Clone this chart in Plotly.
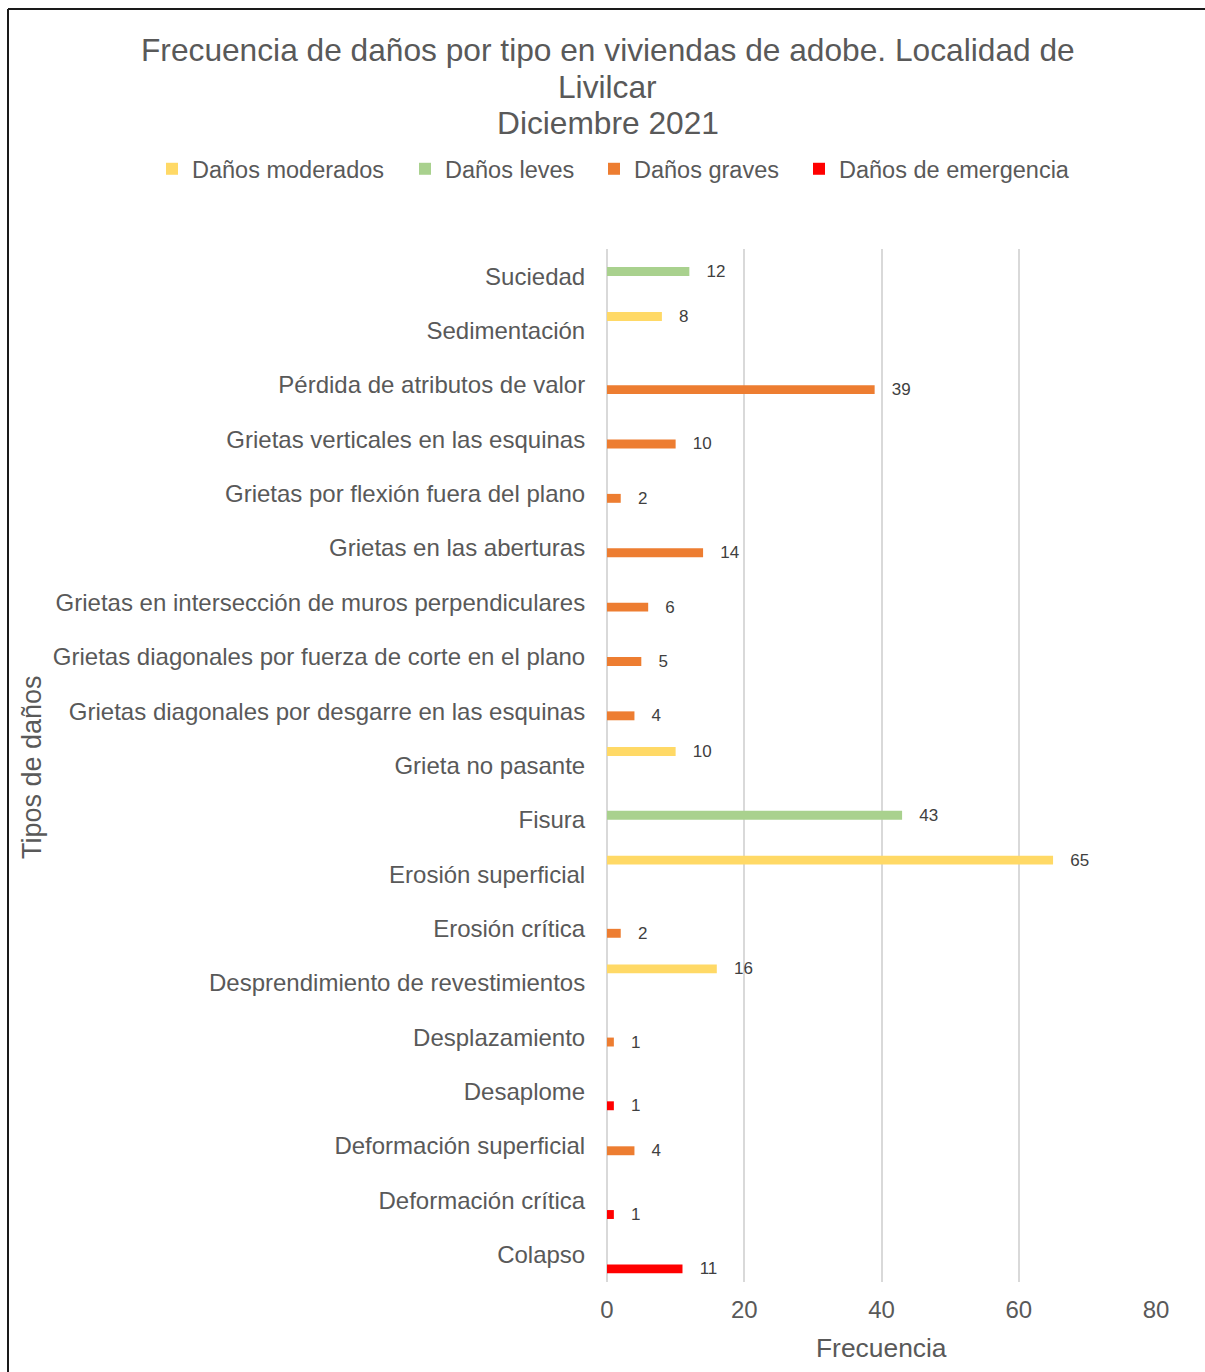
import plotly.graph_objects as go

categories = [
    "Suciedad", "Sedimentación", "Pérdida de atributos de valor",
    "Grietas verticales en las esquinas", "Grietas por flexión fuera del plano",
    "Grietas en las aberturas", "Grietas en intersección de muros perpendiculares",
    "Grietas diagonales por fuerza de corte en el plano",
    "Grietas diagonales por desgarre en las esquinas", "Grieta no pasante",
    "Fisura", "Erosión superficial", "Erosión crítica",
    "Desprendimiento de revestimientos", "Desplazamiento", "Desaplome",
    "Deformación superficial", "Deformación crítica", "Colapso",
]
N = None
danos_moderados = [N, 8, N, N, N, N, N, N, N, 10, N, 65, N, 16, N, N, N, N, N]
danos_leves = [12, N, N, N, N, N, N, N, N, N, 43, N, N, N, N, N, N, N, N]
danos_graves = [N, N, 39, 10, 2, 14, 6, 5, 4, N, N, N, 2, N, 1, N, 4, N, N]
danos_emergencia = [N, N, N, N, N, N, N, N, N, N, N, N, N, N, N, 1, N, 1, 11]

series_names = ["Daños moderados", "Daños leves", "Daños graves", "Daños de emergencia"]
series_values = [danos_moderados, danos_leves, danos_graves, danos_emergencia]
series_colors = ["#FFD966", "#A9D18E", "#ED7D31", "#FF0000"]
x_ticks = [0, 20, 40, 60, 80]
title_lines = ["Frecuencia de daños por tipo en viviendas de adobe. Localidad de",
               "Livilcar", "Diciembre 2021"]

FONT = "Liberation Sans, Arial, sans-serif"
GRAY = "#595959"

W, H = 1205, 1372
L, R, T, B = 607, 1205 - 1156, 249, 1372 - 1282
pw, ph = W - L - R, H - T - B

def px_x(x):
    return (x - L) / pw

def px_y(y):
    return (H - B - y) / ph

legend_ids = ["legend", "legend2", "legend3", "legend4"]
legend_square_px = [170, 423, 612, 817]

fig = go.Figure()
for name, vals, col, lid in zip(series_names, series_values, series_colors, legend_ids):
    fig.add_trace(go.Bar(
        y=categories, x=vals, name=name, orientation="h", legend=lid,
        marker=dict(color=col, line=dict(width=0)),
        texttemplate="\u00a0\u00a0\u00a0%{x}", textposition="outside",
        textfont=dict(size=17, color="#404040", family=FONT),
        constraintext="none", cliponaxis=False,
    ))

legends = {}
for lid, sx in zip(legend_ids, legend_square_px):
    legends[lid] = dict(
        orientation="h", xref="paper", x=px_x(sx - 4 - 14), xanchor="left",
        yref="paper", y=px_y(169), yanchor="middle",
        font=dict(size=23.5, color=GRAY, family=FONT),
        bgcolor="rgba(0,0,0,0)", borderwidth=0,
    )

annotations = [
    dict(text=t, xref="paper", yref="paper", x=px_x(607.5), y=px_y(yc),
         xanchor="center", yanchor="middle", showarrow=False,
         font=dict(size=31.7, color=GRAY, family=FONT))
    for t, yc in zip(title_lines, [50, 87, 123])
]
annotations += [
    dict(text="Frecuencia", xref="paper", yref="paper", x=0.5, y=px_y(1348),
         xanchor="center", yanchor="middle", showarrow=False,
         font=dict(size=26.4, color=GRAY, family=FONT)),
    dict(text="Tipos de daños", xref="paper", yref="paper", x=px_x(32), y=px_y(767),
         xanchor="center", yanchor="middle", showarrow=False, textangle=-90,
         font=dict(size=27, color=GRAY, family=FONT)),
]

fig.update_layout(
    width=W, height=H,
    margin=dict(l=L, r=R, t=T, b=B, autoexpand=False),
    paper_bgcolor="white", plot_bgcolor="white",
    font=dict(family=FONT, color=GRAY),
    barmode="group", bargap=0.31, bargroupgap=0.05,
    showlegend=True,
    xaxis=dict(
        range=[0, 80], tickvals=x_ticks, ticktext=[str(v) for v in x_ticks],
        showgrid=True, gridcolor="#D9D9D9", gridwidth=2,
        zeroline=True, zerolinecolor="#D9D9D9", zerolinewidth=2,
        showline=False, ticks="outside", ticklen=6, tickcolor="rgba(0,0,0,0)",
        tickfont=dict(size=24, color=GRAY, family=FONT), fixedrange=True,
    ),
    yaxis=dict(
        categoryorder="array", categoryarray=categories, autorange="reversed",
        showgrid=False, zeroline=False, showline=False,
        ticks="outside", ticklen=16, tickcolor="rgba(0,0,0,0)",
        tickfont=dict(size=24, color=GRAY, family=FONT), fixedrange=True,
    ),
    annotations=annotations,
    shapes=[
        dict(type="line", xref="paper", yref="paper", x0=px_x(8), x1=px_x(1260),
             y0=px_y(9), y1=px_y(9), line=dict(color="#1a1a1a", width=2)),
        dict(type="line", xref="paper", yref="paper", x0=px_x(8), x1=px_x(8),
             y0=px_y(9), y1=px_y(1420), line=dict(color="#1a1a1a", width=2)),
    ],
    **legends,
)

fig.write_html("out.html")
